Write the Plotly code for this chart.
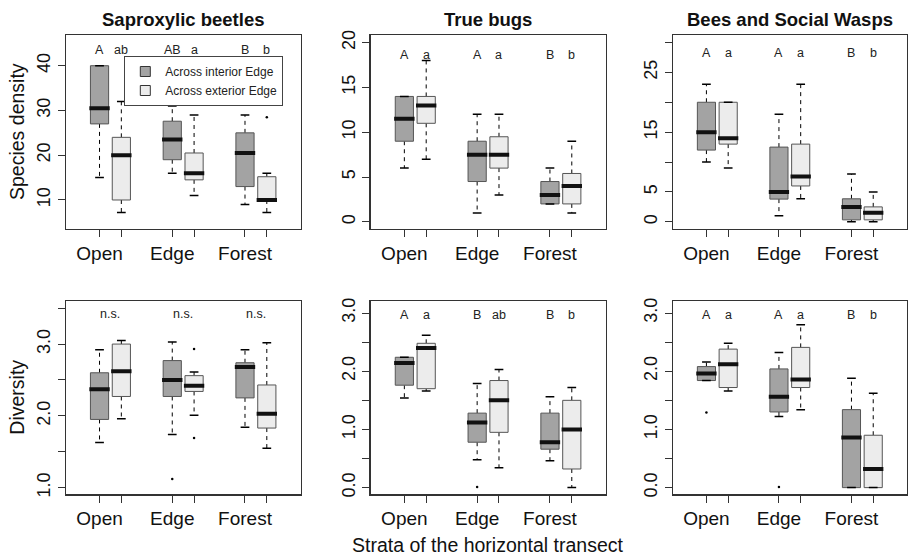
import plotly.graph_objects as go

# ---------------- data ----------------
groups = ["Open", "Edge", "Forest"]
series_names = ["Across interior Edge", "Across exterior Edge"]
panel_titles = ["Saproxylic beetles", "True bugs", "Bees and Social Wasps"]
row_titles = ["Species density", "Diversity"]
x_title = "Strata of the horizontal transect"

# five-number summaries per group: [lower whisker, Q1, median, Q3, upper whisker]
sap_dens_int = [[15, 27, 30.5, 40, 40], [16, 19, 23.5, 27.6, 31], [9, 13, 20.5, 25, 29]]
sap_dens_ext = [[7.2, 10, 20, 24, 32], [11, 14.5, 16, 20.5, 29], [7.2, 10, 10, 15.2, 16]]
sap_dens_int_out = [[], [], []]
sap_dens_ext_out = [[], [], [28.5]]
sap_dens_letters_int = ["A", "AB", "B"]
sap_dens_letters_ext = ["ab", "a", "b"]

bug_dens_int = [[6, 9, 11.5, 14, 14], [1, 4.5, 7.5, 9, 12], [2, 2, 3, 4.5, 6]]
bug_dens_ext = [[7, 11, 13, 14, 18], [3, 6, 7.5, 9.5, 12], [1, 2, 4, 5.4, 9]]
bug_dens_int_out = [[], [], []]
bug_dens_ext_out = [[], [], []]
bug_dens_letters_int = ["A", "A", "B"]
bug_dens_letters_ext = ["a", "a", "b"]

bee_dens_int = [[10, 12, 15, 20, 23], [1, 3.8, 5, 12.5, 18], [0, 0.33, 2.5, 3.85, 8]]
bee_dens_ext = [[9, 13, 14, 20, 20], [3.85, 6, 7.6, 13, 23], [0, 0.33, 1.5, 2.5, 5]]
bee_dens_int_out = [[], [], []]
bee_dens_ext_out = [[], [], []]
bee_dens_letters_int = ["A", "A", "B"]
bee_dens_letters_ext = ["a", "a", "b"]

sap_div_int = [[1.63, 1.95, 2.37, 2.6, 2.92], [1.74, 2.27, 2.5, 2.77, 3.03], [1.84, 2.25, 2.68, 2.74, 2.92]]
sap_div_ext = [[1.96, 2.27, 2.62, 3.0, 3.05], [2.01, 2.34, 2.42, 2.56, 2.61], [1.55, 1.83, 2.03, 2.43, 3.02]]
sap_div_int_out = [[], [1.12], []]
sap_div_ext_out = [[], [2.93, 1.69], []]
sap_div_letters_int = ["n.s.", "n.s.", "n.s."]
sap_div_letters_ext = ["", "", ""]

bug_div_int = [[1.54, 1.76, 2.14, 2.24, 2.24], [0.48, 0.78, 1.12, 1.28, 1.79], [0.46, 0.66, 0.78, 1.28, 1.56]]
bug_div_ext = [[1.66, 1.70, 2.40, 2.48, 2.62], [0.34, 0.95, 1.50, 1.84, 2.03], [0.0, 0.32, 1.0, 1.50, 1.72]]
bug_div_int_out = [[], [0.01], []]
bug_div_ext_out = [[], [], []]
bug_div_letters_int = ["A", "B", "B"]
bug_div_letters_ext = ["a", "ab", "b"]

bee_div_int = [[1.84, 1.84, 1.96, 2.08, 2.16], [1.22, 1.30, 1.56, 2.04, 2.32], [0.0, 0.0, 0.86, 1.34, 1.88]]
bee_div_ext = [[1.66, 1.72, 2.12, 2.38, 2.48], [1.34, 1.72, 1.86, 2.41, 2.80], [0.0, 0.0, 0.32, 0.90, 1.62]]
bee_div_int_out = [[1.29], [0.01], []]
bee_div_ext_out = [[], [], []]
bee_div_letters_int = ["A", "A", "B"]
bee_div_letters_ext = ["a", "a", "b"]

# y-axis ticks per panel
ticks_p1 = [10, 20, 30, 40]
ticks_p2 = [0, 5, 10, 15, 20]
ticks_p3 = [0, 5, 10, 15, 20, 25, 30]
ticklab_p3 = ["0", "5", "", "15", "", "25", ""]
ticks_p4 = [1.0, 1.5, 2.0, 2.5, 3.0, 3.5]
ticklab_p4 = ["1.0", "", "2.0", "", "3.0", ""]
ticks_p56 = [0.0, 0.5, 1.0, 1.5, 2.0, 2.5, 3.0]
ticklab_p56 = ["0.0", "", "1.0", "", "2.0", "", "3.0"]

# ---------------- styling / layout ----------------
W, H = 908, 559
FONT = "Liberation Sans, Arial, Helvetica, sans-serif"
DARK = "#a3a3a3"
LIGHT = "#ececec"
BORDER = "#555555"
FRAME = "#333333"

col_px = [(65.7, 301.0), (370.5, 606.0), (672.7, 907.3)]
row_px = [(35.0, 229.0), (301.0, 494.3)]
x_range = [0.535, 3.77]
offset_ext = 0.3
half_w = 0.125
cap_w = 0.06
med_w = 0.14

panels = [
    dict(intv=sap_dens_int, extv=sap_dens_ext, io=sap_dens_int_out, eo=sap_dens_ext_out,
         li=sap_dens_letters_int, le=sap_dens_letters_ext, ly=43.5, yr=[3.52, 46.86],
         tv=ticks_p1, tt=[str(v) for v in ticks_p1]),
    dict(intv=bug_dens_int, extv=bug_dens_ext, io=bug_dens_int_out, eo=bug_dens_ext_out,
         li=bug_dens_letters_int, le=bug_dens_letters_ext, ly=18.6, yr=[-0.8, 20.86],
         tv=ticks_p2, tt=[str(v) for v in ticks_p2]),
    dict(intv=bee_dens_int, extv=bee_dens_ext, io=bee_dens_int_out, eo=bee_dens_ext_out,
         li=bee_dens_letters_int, le=bee_dens_letters_ext, ly=28.3, yr=[-1.2, 31.25],
         tv=ticks_p3, tt=ticklab_p3),
    dict(intv=sap_div_int, extv=sap_div_ext, io=sap_div_int_out, eo=sap_div_ext_out,
         li=sap_div_letters_int, le=sap_div_letters_ext, ly=3.42, yr=[0.907, 3.6],
         tv=ticks_p4, tt=ticklab_p4, center_letters=True),
    dict(intv=bug_div_int, extv=bug_div_ext, io=bug_div_int_out, eo=bug_div_ext_out,
         li=bug_div_letters_int, le=bug_div_letters_ext, ly=2.97, yr=[-0.115, 3.207],
         tv=ticks_p56, tt=ticklab_p56),
    dict(intv=bee_div_int, extv=bee_div_ext, io=bee_div_int_out, eo=bee_div_ext_out,
         li=bee_div_letters_int, le=bee_div_letters_ext, ly=2.97, yr=[-0.115, 3.207],
         tv=ticks_p56, tt=ticklab_p56),
]

fig = go.Figure()
annotations = []
layout_axes = {}


def add_boxes(stats, outs, base_off, fill, xa, ya):
    xs_box, ys_box = [], []
    xs_wh, ys_wh = [], []
    xs_cap, ys_cap = [], []
    xs_med, ys_med = [], []
    xs_out, ys_out = [], []
    for gi, s in enumerate(stats):
        p = gi + 1 + base_off
        lo, q1, md, q3, hi = s
        xs_wh += [p, p, None, p, p, None]
        ys_wh += [q3, hi, None, q1, lo, None]
        xs_box += [p - half_w, p + half_w, p + half_w, p - half_w, p - half_w, None]
        ys_box += [q1, q1, q3, q3, q1, None]
        xs_cap += [p - cap_w, p + cap_w, None, p - cap_w, p + cap_w, None]
        ys_cap += [hi, hi, None, lo, lo, None]
        xs_med += [p - med_w, p + med_w, None]
        ys_med += [md, md, None]
        for o in outs[gi]:
            xs_out.append(p)
            ys_out.append(o)
    common = dict(xaxis=xa, yaxis=ya, showlegend=False, hoverinfo="skip")
    fig.add_trace(go.Scatter(x=xs_wh, y=ys_wh, mode="lines",
                             line=dict(color="black", width=1, dash="4px,4px"), **common))
    fig.add_trace(go.Scatter(x=xs_box, y=ys_box, mode="lines", fill="toself", fillcolor=fill,
                             line=dict(color=BORDER, width=1), **common))
    fig.add_trace(go.Scatter(x=xs_cap, y=ys_cap, mode="lines",
                             line=dict(color="black", width=1.5), **common))
    fig.add_trace(go.Scatter(x=xs_med, y=ys_med, mode="lines",
                             line=dict(color="#111111", width=4), **common))
    if xs_out:
        fig.add_trace(go.Scatter(x=xs_out, y=ys_out, mode="markers",
                                 marker=dict(color="black", size=2.5), **common))


for i, pn in enumerate(panels):
    r, c = divmod(i, 3)
    sfx = "" if i == 0 else str(i + 1)
    xa, ya = "x" + sfx, "y" + sfx
    x0, x1 = col_px[c]
    top, bot = row_px[r]
    layout_axes["xaxis" + sfx] = dict(
        domain=[x0 / W, x1 / W], range=x_range, anchor=ya, automargin=False,
        tickvals=[1, 1 + offset_ext, 2, 2 + offset_ext, 3, 3 + offset_ext],
        ticktext=[groups[0], "", groups[1], "", groups[2], ""],
        ticks="outside", ticklen=7, tickcolor=FRAME, tickwidth=1,
        showline=True, mirror=True, linecolor=FRAME, linewidth=1.2,
        showgrid=False, zeroline=False, fixedrange=True,
        tickfont=dict(family=FONT, size=19, color="#111111"),
    )
    layout_axes["yaxis" + sfx] = dict(
        domain=[1 - bot / H, 1 - top / H], range=pn["yr"], anchor=xa, automargin=False,
        tickvals=pn["tv"], ticktext=pn["tt"], tickangle=-90,
        ticks="outside", ticklen=7, tickcolor=FRAME, tickwidth=1,
        showline=True, mirror=True, linecolor=FRAME, linewidth=1.2,
        showgrid=False, zeroline=False, fixedrange=True,
        tickfont=dict(family=FONT, size=18, color="#111111"),
    )
    add_boxes(pn["intv"], pn["io"], 0.0, DARK, xa, ya)
    add_boxes(pn["extv"], pn["eo"], offset_ext, LIGHT, xa, ya)
    for gi in range(3):
        if pn.get("center_letters"):
            annotations.append(dict(x=gi + 1 + offset_ext / 2, y=pn["ly"], xref=xa, yref=ya,
                                    text=pn["li"][gi], showarrow=False, xanchor="center",
                                    font=dict(family=FONT, size=12.5, color="#222222")))
        else:
            for off, lab in ((0.0, pn["li"][gi]), (offset_ext, pn["le"][gi])):
                annotations.append(dict(x=gi + 1 + off, y=pn["ly"], xref=xa, yref=ya,
                                        text=lab, showarrow=False, xanchor="center",
                                        font=dict(family=FONT, size=12.5, color="#222222")))
    if r == 0:
        annotations.append(dict(x=(x0 + x1) / 2 / W, y=1 - 19 / H, xref="paper", yref="paper",
                                text="<b>" + panel_titles[c] + "</b>", showarrow=False,
                                xanchor="center", yanchor="middle",
                                font=dict(family=FONT, size=18.5, color="#111111")))
    if c == 0:
        annotations.append(dict(x=17 / W, y=1 - (top + bot) / 2 / H, xref="paper", yref="paper",
                                text=row_titles[r], textangle=-90, showarrow=False,
                                xanchor="center", yanchor="middle",
                                font=dict(family=FONT, size=19.5, color="#111111")))

annotations.append(dict(x=(col_px[1][0] + col_px[1][1]) / 2 / W, y=1 - 545 / H,
                        xref="paper", yref="paper", text=x_title, showarrow=False,
                        xanchor="center", yanchor="middle",
                        font=dict(family=FONT, size=19.5, color="#111111")))

# legend entries
for name, col in zip(series_names, [DARK, LIGHT]):
    fig.add_trace(go.Scatter(x=[None], y=[None], mode="markers", name=name,
                             marker=dict(symbol="square", size=10, color=col,
                                         line=dict(color="#333333", width=1)),
                             xaxis="x", yaxis="y"))

fig.update_layout(
    width=W, height=H, margin=dict(l=0, r=0, t=0, b=0, pad=0, autoexpand=False),
    paper_bgcolor="white", plot_bgcolor="white",
    font=dict(family=FONT, color="#111111"),
    annotations=annotations,
    showlegend=True,
    legend=dict(x=124.3 / W, y=1 - 56 / H, xanchor="left", yanchor="top",
                bordercolor="#444444", borderwidth=1, bgcolor="white",
                font=dict(family=FONT, size=12, color="#222222"),
                tracegroupgap=0, itemwidth=30),
    **layout_axes,
)

fig.write_html(
    "out.html",
    config={"displayModeBar": False, "staticPlot": True},
    post_script="document.body.style.margin='0';document.body.style.overflow='hidden';",
)
